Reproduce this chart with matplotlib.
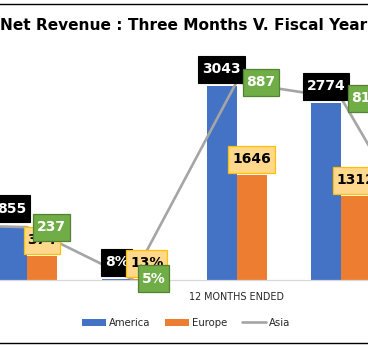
import numpy as np
import matplotlib
matplotlib.use("Agg")
import matplotlib.pyplot as plt
from matplotlib.lines import Line2D

plt.rcParams['font.family'] = ['DejaVu Sans']

# 3 months current / prior / growth, then 12 months current / prior / growth
tick_labels = ["3 MONTHS ENDED", "", "", "12 MONTHS ENDED", "", ""]
america = [923, 855, 8, 3043, 2774, 10]
europe = [423, 374, 13, 1646, 1312, 25]
asia = [249, 237, 5, 887, 815, 9]
pct_groups = [2, 5]

BLUE = '#4472C4'
ORANGE = '#ED7D31'
GRAY = '#A5A5A5'


def fmt(i, v):
    return f"{v}%" if i in pct_groups else f"{v}"


W, H = 368, 346
fig = plt.figure(figsize=(W / 100, H / 100), dpi=100)
# plot area wider than the figure so the outer groups fall off the edges
step = 104.75
left_px = 27 - 1.5 * step
ax = fig.add_axes([left_px / W, 66 / H, 6 * step / W, 223 / H])
x = np.arange(len(america))
bw = 30 / step

ax.bar(x - bw / 2, america, bw, color=BLUE, label='America', zorder=2)
ax.bar(x + bw / 2, europe, bw, color=ORANGE, label='Europe', zorder=2)
ax.set_xlim(-0.5, len(x) - 0.5)
ax.set_ylim(0, 3500)
ax.set_yticks([])
ax.set_xticks(x)
ax.set_xticklabels(tick_labels, fontsize=6.9, color='#262626')
ax.tick_params(axis='x', length=0, pad=9)
for s in ['top', 'left', 'right']:
    ax.spines[s].set_visible(False)
ax.spines['bottom'].set_color('#D9D9D9')
ax.spines['bottom'].set_linewidth(0.9)

ax2 = ax.twinx()
ax2.set_ylim(0, 1000)
ax2.set_yticks([])
for s in ax2.spines.values():
    s.set_visible(False)
ax2.plot(x, asia, color=GRAY, lw=1.9, label='Asia', solid_capstyle='round',
         solid_joinstyle='round', zorder=2)

# data label boxes: extra vertical padding via mutation_aspect
box = dict(boxstyle='square,pad=0.27', mutation_aspect=1.75)
lab_kw = dict(fontsize=10, fontweight='bold', textcoords='offset pixels',
              annotation_clip=False, zorder=5)
for i in x:
    ax2.annotate(fmt(i, america[i]), xy=(i - bw / 2, america[i]), xycoords=ax.transData,
                 xytext=(0, 10), ha='center', va='bottom', color='white',
                 bbox=dict(box, fc='black', ec='black', lw=0.8), **lab_kw)
for i in x:
    ax2.annotate(fmt(i, europe[i]), xy=(i + bw / 2, europe[i]), xycoords=ax.transData,
                 xytext=(0, 9), ha='center', va='bottom', color='black',
                 bbox=dict(box, fc='#FFD88C', ec='#FFC000', lw=0.9), **lab_kw)
for i in x:
    ax2.annotate(fmt(i, asia[i]), xy=(i, asia[i]), xycoords='data',
                 xytext=(10, 0), ha='left', va='center', color='white',
                 bbox=dict(box, fc='#70AD47', ec='#548235', lw=0.9), **lab_kw)

fig.text(184 / W, 1 - 25 / H, "Net Revenue : Three Months V. Fiscal Year",
         ha='center', va='center', fontsize=11.1, fontweight='bold', color='black')

h1, l1 = ax.get_legend_handles_labels()
h2, l2 = ax2.get_legend_handles_labels()
fig.legend(h1 + h2, l1 + l2, loc='center', bbox_to_anchor=(186 / W, 1 - 323 / H),
           ncol=3, frameon=False, fontsize=7.3, handlelength=2.4, handletextpad=0.3,
           columnspacing=1.4, labelcolor='#262626')

# thin rules above and below the chart
fig.add_artist(Line2D([0, 1], [1 - 4 / H, 1 - 4 / H], color='black', lw=1.0))
fig.add_artist(Line2D([0, 1], [1 - 343 / H, 1 - 343 / H], color='black', lw=1.0))

fig.savefig('out.png', dpi=100)
